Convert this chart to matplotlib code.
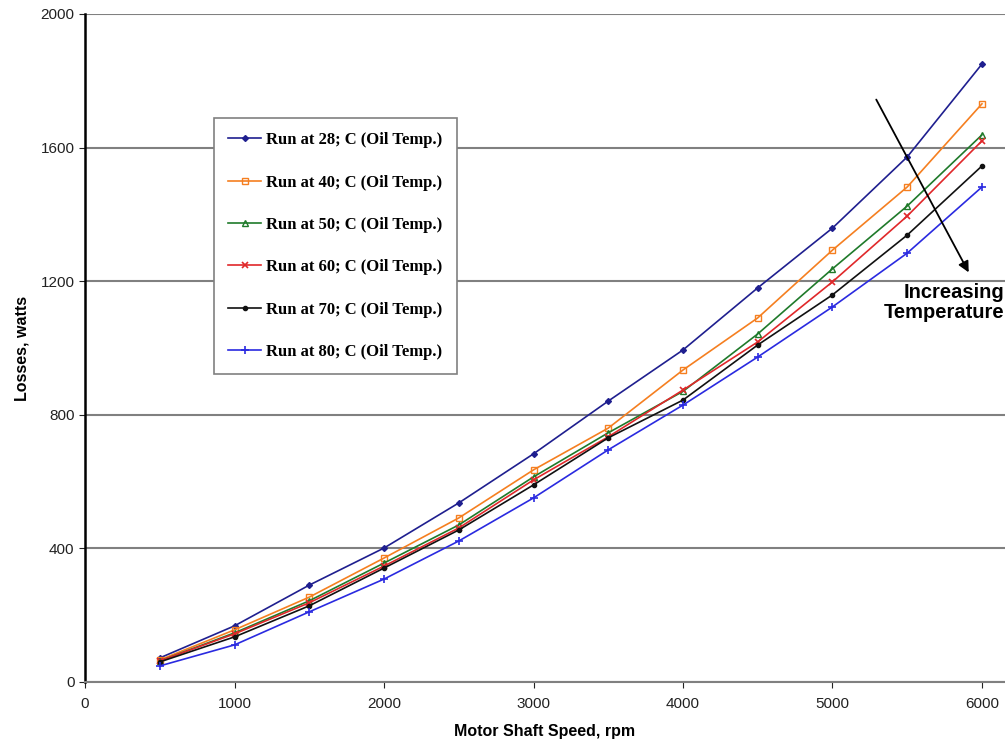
import numpy as np
import matplotlib
matplotlib.use("Agg")
import matplotlib.pyplot as plt

# motor shaft speed, rpm
speed = [500, 1000, 1500, 2000, 2500, 3000, 3500, 4000, 4500, 5000, 5500, 6000]

# losses in watts, one list per oil temperature run
loss_28 = [72, 168, 290, 401, 536, 683, 841, 994, 1180, 1359, 1572, 1850]
loss_40 = [66, 156, 254, 371, 491, 635, 760, 934, 1090, 1293, 1482, 1731]
loss_50 = [63, 147, 243, 356, 470, 614, 746, 870, 1042, 1237, 1425, 1638]
loss_60 = [63, 144, 237, 347, 461, 605, 734, 874, 1018, 1198, 1395, 1620]
loss_70 = [60, 135, 228, 341, 455, 590, 731, 844, 1009, 1159, 1338, 1545]
loss_80 = [48, 111, 210, 308, 422, 551, 695, 829, 973, 1123, 1284, 1482]

labels = ["Run at 28; C (Oil Temp.)", "Run at 40; C (Oil Temp.)",
          "Run at 50; C (Oil Temp.)", "Run at 60; C (Oil Temp.)",
          "Run at 70; C (Oil Temp.)", "Run at 80; C (Oil Temp.)"]

plt.rcParams['font.family'] = ['Liberation Sans', 'DejaVu Sans']

fig = plt.figure(figsize=(10.05, 7.42), dpi=100)
ax = fig.add_axes([0.0846, 0.0809, 0.9154, 0.9003])

ax.plot(speed, loss_28, color='#1f1f8f', marker='D', ms=3, lw=1.2, label=labels[0])
ax.plot(speed, loss_40, color='#f57f20', marker='s', ms=5, mfc='none', mew=1, lw=1.2, label=labels[1])
ax.plot(speed, loss_50, color='#1f7a2a', marker='^', ms=5, mfc='none', mew=1, lw=1.2, label=labels[2])
ax.plot(speed, loss_60, color='#e0282a', marker='x', ms=5, mew=1.2, lw=1.2, label=labels[3])
ax.plot(speed, loss_70, color='#111111', marker='o', ms=3, lw=1.2, label=labels[4])
ax.plot(speed, loss_80, color='#2a2ae0', marker='+', ms=6, mew=1.2, lw=1.2, label=labels[5])

ax.set_xlim(0, 6154)
ax.set_ylim(0, 2000)
ax.set_xticks([0, 1000, 2000, 3000, 4000, 5000, 6000])
ax.set_yticks([0, 400, 800, 1200, 1600, 2000])
ax.yaxis.grid(True, color='#808080', lw=1.5)
ax.set_axisbelow(True)

for s in ['top', 'right']:
    ax.spines[s].set_visible(False)
ax.spines['left'].set_color('black')
ax.spines['left'].set_linewidth(1.8)
ax.spines['bottom'].set_color('#808080')
ax.spines['bottom'].set_linewidth(1.5)
ax.tick_params(axis='both', direction='out', length=4, labelsize=11, colors='#222222')
ax.tick_params(axis='x', pad=7)

ax.set_xlabel('Motor Shaft Speed, rpm', fontsize=11.5, fontweight='bold', labelpad=9)
ax.set_ylabel('Losses, watts', fontsize=11.5, fontweight='bold', labelpad=8)

leg = ax.legend(loc='upper left', bbox_to_anchor=(0.140, 0.844), borderaxespad=0,
                prop={'family': 'Liberation Serif', 'weight': 'bold', 'size': 12},
                labelspacing=1.58, handlelength=2.0, handletextpad=0.3,
                borderpad=0.85, fancybox=False, framealpha=1)
leg.get_frame().set_edgecolor('#808080')
leg.get_frame().set_linewidth(1.2)

ax.annotate('', xy=(5920, 1219), xytext=(5284, 1751),
            arrowprops=dict(arrowstyle='-|>', color='black', lw=1.3, mutation_scale=16))
ax.text(6150, 1135, 'Increasing\nTemperature', ha='right', va='center',
        fontsize=14.5, fontweight='bold', linespacing=1.05)

fig.savefig('out.png', dpi=100)
